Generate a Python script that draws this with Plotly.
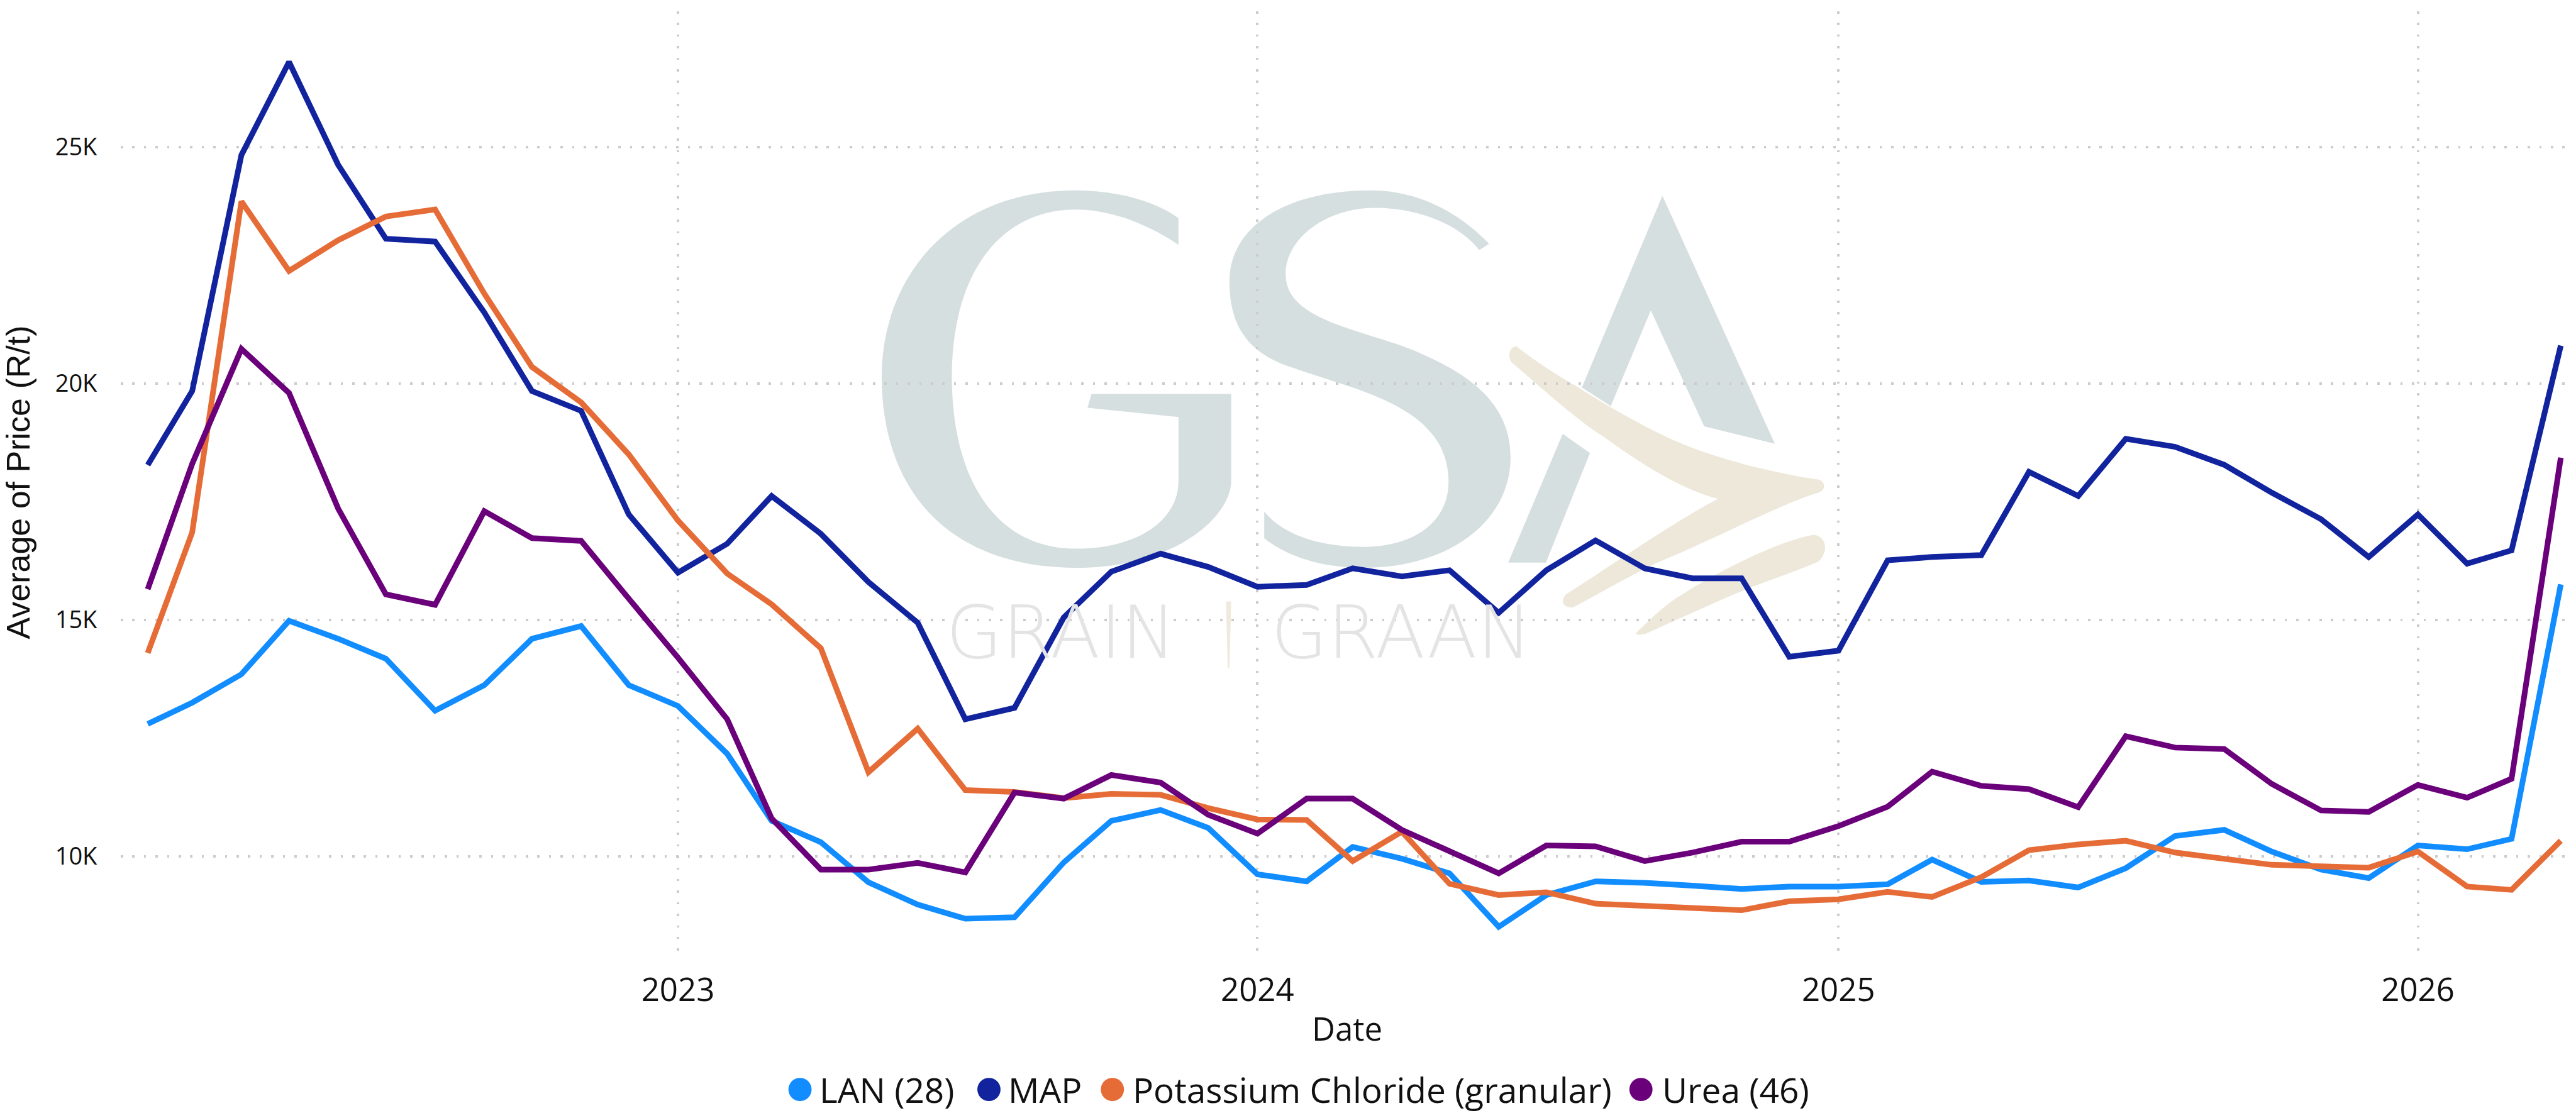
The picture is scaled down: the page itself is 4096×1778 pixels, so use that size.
import re
import pandas as pd
import plotly.graph_objects as go

dates = pd.date_range("2022-02-01", "2026-04-01", freq="MS").strftime("%Y-%m-%d").tolist()

lan = [12800, 13250, 13850, 14980, 14600, 14180, 13080, 13620, 14600, 14870, 13620,
       13180, 12170, 10750, 10300, 9450, 8980, 8680, 8710, 9870, 10750, 10980, 10600,
       9620, 9470, 10200, 9950, 9640, 8510, 9180, 9470, 9440, 9380, 9310, 9360,
       9360, 9410, 9930, 9460, 9490, 9340, 9750, 10430, 10560, 10100, 9720, 9540,
       10230, 10150, 10370, 15750]
map_ = [18276, 19840, 24830, 26800, 24620, 23060, 23000, 21500, 19840, 19420, 17230,
        16000, 16610, 17620, 16820, 15800, 14940, 12900, 13140, 15050, 16020, 16400, 16120,
        15700, 15740, 16090, 15920, 16050, 15150, 16050, 16680, 16090, 15880, 15880, 14220,
        14350, 16260, 16330, 16370, 18130, 17620, 18830, 18660, 18280, 17690, 17130, 16330,
        17230, 16190, 16470, 20800]
potash = [14300, 16850, 23850, 22380, 23030, 23530, 23680, 21900, 20350, 19600, 18500,
          17100, 15980, 15330, 14400, 11780, 12700, 11400, 11360, 11230, 11320, 11300, 11020,
          10780, 10770, 9900, 10520, 9420, 9180, 9240, 9000, 8950, 8890, 8860, 9050,
          9090, 9250, 9140, 9560, 10130, 10250, 10330, 10080, 9950, 9820, 9790, 9760,
          10100, 9360, 9290, 10330]
urea = [15650, 18300, 20730, 19800, 17350, 15540, 15320, 17300, 16730, 16670, 15450,
        14200, 12900, 10800, 9720, 9720, 9860, 9660, 11350, 11220, 11720, 11560, 10880,
        10480, 11220, 11220, 10560, 10100, 9640, 10230, 10210, 9900, 10080, 10310, 10310,
        10640, 11050, 11790, 11490, 11420, 11040, 12540, 12300, 12270, 11530, 10970, 10940,
        11510, 11240, 11640, 18430]

series_names = ["LAN (28)", "MAP", "Potassium Chloride (granular)", "Urea (46)"]
series_colors = ["#118DFF", "#12239E", "#E66C37", "#6B007B"]
series_values = [lan, map_, potash, urea]

y_ticks = [10000, 15000, 20000, 25000]
y_labels = ["10K", "15K", "20K", "25K"]
x_ticks = ["2023-01-01", "2024-01-01", "2025-01-01", "2026-01-01"]
x_labels = ["2023", "2024", "2025", "2026"]

W, H = 4096, 1778
S = W / 4444
L, R, T, B = 208 * S, W - 4440 * S, 20 * S, H - 1645 * S
PW, PH = W - L - R, H - T - B


def px(x):
    return (x * S - L) / PW


def py(y):
    return 1 - (y * S - T) / PH


def to_paper(path):
    """Convert a decorative outline from reference pixels to paper coordinates."""
    def repl(m):
        return f"{px(float(m.group(1))):.5f},{py(float(m.group(2))):.5f}"
    return re.sub(r"(-?\d+(?:\.\d+)?)[ ,](-?\d+(?:\.\d+)?)", repl, path)


LOGO_GREY = "#d6dfdf"
LOGO_TAN = "#ede8da"
logo_g = ("M 2033 377 C 1990 345 1920 329 1856 329 C 1640 329 1521 480 1521 650 "
          "C 1521 850 1640 980 1856 980 C 2030 980 2124 890 2124 830 L 2124 680 L 1883 680 "
          "L 1876 704 L 2033 720 L 2033 830 C 2033 900 1960 947 1856 947 "
          "C 1720 947 1642 830 1642 650 C 1642 480 1720 362 1856 362 C 1930 362 2000 400 2033 423 Z")
logo_s = ("M 2569 421 C 2520 370 2450 329 2365 329 C 2220 329 2121 390 2121 486 "
          "C 2121 560 2150 610 2231 635 C 2338 674 2499 700 2499 832 C 2499 900 2440 944 2352 944 "
          "C 2280 944 2215 925 2181 883 L 2181 929 C 2220 960 2280 980 2352 980 "
          "C 2500 980 2606 900 2606 789 C 2606 700 2540 650 2459 614 C 2370 570 2218 560 2218 474 "
          "C 2218 410 2290 359 2372 359 C 2450 359 2520 390 2552 432 Z")
logo_a_top = "M 2868 338 L 3062 766 L 2940 736 L 2848 536 L 2779 701 L 2729 669 Z"
logo_a_low = "M 2696 749 L 2743 782 L 2667 971 L 2602 971 Z"
logo_chev1 = ("M 2616 598 C 2650 625 2690 650 2723 669 C 2780 705 2850 745 2902 766 "
              "C 2960 790 3050 815 3138 828 C 3150 832 3150 846 3138 850 C 3070 870 2950 935 2857 972 "
              "C 2800 1000 2750 1030 2714 1048 C 2700 1050 2690 1040 2701 1026 C 2760 990 2880 905 2964 861 "
              "C 2900 845 2830 800 2768 755 C 2720 725 2660 670 2607 625 C 2600 612 2606 598 2616 598 Z")
logo_chev2 = ("M 3129 923 C 3150 925 3156 950 3138 969 C 3090 990 3040 1005 2991 1026 "
              "C 2940 1048 2880 1075 2839 1094 C 2825 1097 2820 1095 2824 1091 C 2850 1065 2880 1038 2902 1026 "
              "C 2950 995 3060 935 3129 923 Z")
logo_slash = "M 2115 1038 L 2124 1038 L 2121 1153 L 2118 1153 Z"

shapes = []
for path, col in [(logo_g, LOGO_GREY), (logo_s, LOGO_GREY), (logo_a_top, LOGO_GREY),
                  (logo_a_low, LOGO_GREY), (logo_chev1, LOGO_TAN), (logo_chev2, LOGO_TAN),
                  (logo_slash, "#efeadd")]:
    shapes.append(dict(type="path", path=to_paper(path), xref="paper", yref="paper",
                       fillcolor=col, line=dict(width=0), layer="below"))

annotations = []
for txt, x0 in [("GRAIN", 1630), ("GRAAN", 2190)]:
    annotations.append(dict(text=txt, xref="paper", yref="paper", x=px(x0), y=py(1091),
                            xanchor="left", yanchor="middle", showarrow=False,
                            font=dict(family="DejaVu Sans", size=116, color="#e4e4e4", weight=200)))

# Legend: round dots larger than Plotly's capped legend markers, with real text labels
legend_dot_x = [1380, 1706, 1919, 2831]
legend_text_x = [1411, 1737, 1952, 2865]
LEG_Y = 1880
DOT_R = 20
for name, col, dx, tx in zip(series_names, series_colors, legend_dot_x, legend_text_x):
    shapes.append(dict(type="circle", xref="paper", yref="paper",
                       x0=px(dx - DOT_R), x1=px(dx + DOT_R), y0=py(LEG_Y + DOT_R), y1=py(LEG_Y - DOT_R),
                       fillcolor=col, line=dict(width=0)))
    annotations.append(dict(text=name, xref="paper", yref="paper", x=px(tx), y=py(LEG_Y),
                            xanchor="left", yanchor="middle", showarrow=False,
                            font=dict(family="Open Sans", size=55, color="#111111")))

fig = go.Figure()
for name, col, vals in zip(series_names, series_colors, series_values):
    fig.add_trace(go.Scatter(x=dates, y=vals, name=name, mode="lines",
                             line=dict(color=col, width=9), showlegend=False))

grid = dict(showgrid=True, gridcolor="#cccccc", griddash="3.5px,14.9px", gridwidth=3.5, zeroline=False,
            showline=False, ticks="outside", tickcolor="rgba(0,0,0,0)")
fig.update_layout(
    width=W, height=H, autosize=False,
    margin=dict(l=L, r=R, t=T, b=B, pad=0),
    paper_bgcolor="#ffffff", plot_bgcolor="rgba(0,0,0,0)",
    shapes=shapes, annotations=annotations, showlegend=False,
    xaxis=dict(type="date", range=["2022-01-15", "2026-04-09"], tickmode="array",
               tickvals=x_ticks, ticktext=x_labels, ticklen=14,
               tickfont=dict(family="Open Sans", size=51, color="#111111"),
               title=dict(text="Date", standoff=13,
                          font=dict(family="Open Sans", size=51, color="#111111")),
               **grid),
    yaxis=dict(range=[7950, 27870], tickmode="array", tickvals=y_ticks, ticktext=y_labels,
               ticklen=29, tickfont=dict(family="Open Sans", size=38, color="#111111"),
               title=dict(text="Average of Price (R/t)", standoff=25,
                          font=dict(family="Liberation Sans", size=52, color="#111111")),
               **grid),
)

fig.write_html("out.html", config={"displayModeBar": False},
               post_script="document.body.style.margin='0';document.body.style.overflow='hidden';")
